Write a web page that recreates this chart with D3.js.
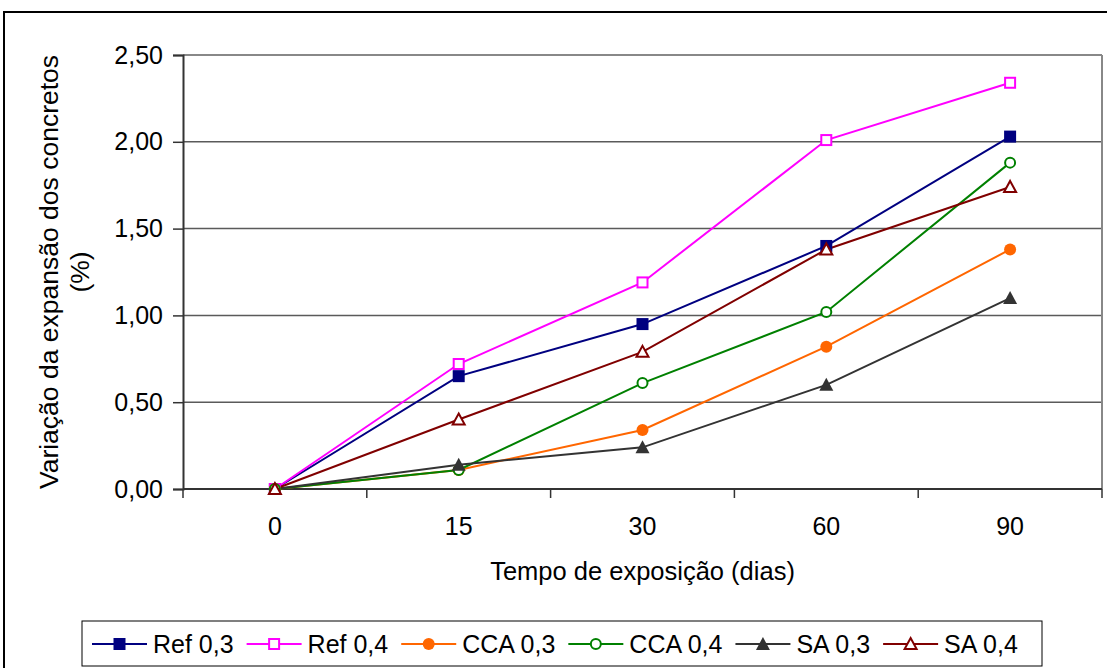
<!DOCTYPE html>
<html><head><meta charset="utf-8">
<script src="https://cdn.jsdelivr.net/npm/d3@7"></script>
<style>body{margin:0;background:#fff}svg{display:block}text{font-family:"Liberation Sans",Arial,sans-serif;fill:#000}</style>
</head><body>
<svg id="c" width="1107" height="668"></svg>
<script>
const categories = ["0","15","30","60","90"];
const seriesNames = ["Ref 0,3","Ref 0,4","CCA 0,3","CCA 0,4","SA 0,3","SA 0,4"];
const ref03 = [0, 0.65, 0.95, 1.40, 2.03];
const ref04 = [0, 0.72, 1.19, 2.01, 2.34];
const cca03 = [0, 0.11, 0.34, 0.82, 1.38];
const cca04 = [0, 0.11, 0.61, 1.02, 1.88];
const sa03  = [0, 0.14, 0.24, 0.60, 1.10];
const sa04  = [0, 0.40, 0.79, 1.38, 1.74];
const yTicks = [0, 0.5, 1.0, 1.5, 2.0, 2.5];
const xTitle = "Tempo de exposição (dias)";
const yTitle1 = "Variação da expansão dos concretos";
const yTitle2 = "(%)";

const colors = ["#000080","#FF00FF","#FF6600","#008000","#333333","#800000"];
const markers = ["squareFilled","squareOpen","circleFilled","circleOpen","triFilled","triOpen"];
const series = seriesNames.map((n,i)=>({name:n, values:[ref03,ref04,cca03,cca04,sa03,sa04][i], color:colors[i], marker:markers[i]}));

const svg = d3.select("#c");
const L=183, R=1102, T=55, B=489;
const fmt = d=>d3.format(".2f")(d).replace(".",",");

// outer frame
svg.append("rect").attr("x",4).attr("y",12).attr("width",1200).attr("height",800)
  .attr("fill","none").attr("stroke","#000").attr("stroke-width",2);

const x = d3.scaleBand().domain(categories).range([L,R]);
const y = d3.scaleLinear().domain([0,2.5]).range([B,T]);

// gridlines
svg.append("g").selectAll("line").data(yTicks.slice(1)).join("line")
  .attr("x1",L).attr("x2",R).attr("y1",d=>y(d)).attr("y2",d=>y(d))
  .attr("stroke",(d,i)=>d===2.5?"#888":"#5a5a5a").attr("stroke-width",d=>d===2.5?2:1.5);
// right border
svg.append("line").attr("x1",R).attr("x2",R).attr("y1",T).attr("y2",B).attr("stroke","#888").attr("stroke-width",2);

// y axis
const ya = svg.append("g").attr("transform",`translate(${L},0)`)
  .call(d3.axisLeft(y).tickValues(yTicks).tickFormat(fmt).tickSize(10).tickPadding(10));
ya.select(".domain").attr("stroke","#333").attr("stroke-width",2);
ya.selectAll(".tick line").attr("stroke","#333").attr("stroke-width",1.5);
ya.selectAll("text").attr("font-size",25).attr("font-family","Liberation Sans, Arial, sans-serif").attr("fill","#000");

// x axis: ticks on band boundaries
svg.append("line").attr("x1",L).attr("x2",R).attr("y1",B).attr("y2",B).attr("stroke","#333").attr("stroke-width",2);
const bounds = categories.map(c=>x(c)).concat([x(categories[categories.length-1])+x.bandwidth()]);
svg.append("g").selectAll("line").data(bounds).join("line")
  .attr("x1",d=>d).attr("x2",d=>d).attr("y1",B).attr("y2",B+9).attr("stroke","#333").attr("stroke-width",1.5);
svg.append("g").selectAll("text").data(categories).join("text")
  .attr("x",d=>x(d)+x.bandwidth()/2).attr("y",535).attr("text-anchor","middle").attr("font-size",25).text(d=>d);

// titles
svg.append("text").attr("x",(L+R)/2).attr("y",580).attr("text-anchor","middle").attr("font-size",25.5).text(xTitle);
const yt = svg.append("text").attr("transform",`translate(58,${(T+B)/2}) rotate(-90)`).attr("text-anchor","middle").attr("font-size",26.5);
yt.append("tspan").attr("x",0).attr("dy",0).text(yTitle1);
yt.append("tspan").attr("x",0).attr("dy",31).text(yTitle2);

// lines
const cx = c=>x(c)+x.bandwidth()/2;
const line = d3.line().x((d,i)=>cx(categories[i])).y(d=>y(d));
svg.append("g").selectAll("path").data(series).join("path")
  .attr("d",s=>line(s.values)).attr("fill","none").attr("stroke",s=>s.color).attr("stroke-width",2);

function drawMarker(g, type, color){
  switch(type){
    case "squareFilled": g.append("rect").attr("x",-6).attr("y",-6).attr("width",12).attr("height",12).attr("fill",color); break;
    case "squareOpen": g.append("rect").attr("x",-5).attr("y",-5).attr("width",10).attr("height",10).attr("fill","#fff").attr("stroke",color).attr("stroke-width",2); break;
    case "circleFilled": g.append("circle").attr("r",6).attr("fill",color); break;
    case "circleOpen": g.append("circle").attr("r",5).attr("fill","#fff").attr("stroke",color).attr("stroke-width",2); break;
    case "triFilled": g.append("path").attr("d","M0,-7L7,6L-7,6Z").attr("fill",color); break;
    case "triOpen": g.append("path").attr("d","M0,-6L6,5L-6,5Z").attr("fill","#fff").attr("stroke",color).attr("stroke-width",2); break;
  }
}
series.forEach(s=>{
  s.values.forEach((v,i)=>{
    const g = svg.append("g").attr("transform",`translate(${cx(categories[i])},${y(v)})`);
    drawMarker(g, s.marker, s.color);
  });
});

// legend
const lg = svg.append("g");
lg.append("rect").attr("x",82).attr("y",621).attr("width",960).attr("height",45).attr("fill","#fff").attr("stroke","#000").attr("stroke-width",1);
let lx = 92; const ly = 644;
series.forEach(s=>{
  lg.append("line").attr("x1",lx).attr("x2",lx+55).attr("y1",ly).attr("y2",ly).attr("stroke",s.color).attr("stroke-width",2);
  drawMarker(lg.append("g").attr("transform",`translate(${lx+27.5},${ly})`), s.marker, s.color);
  const t = lg.append("text").attr("x",lx+61).attr("y",ly+9).attr("font-size",25).text(s.name);
  lx = lx + 61 + t.node().getComputedTextLength() + 13;
});
</script>
</body></html>
